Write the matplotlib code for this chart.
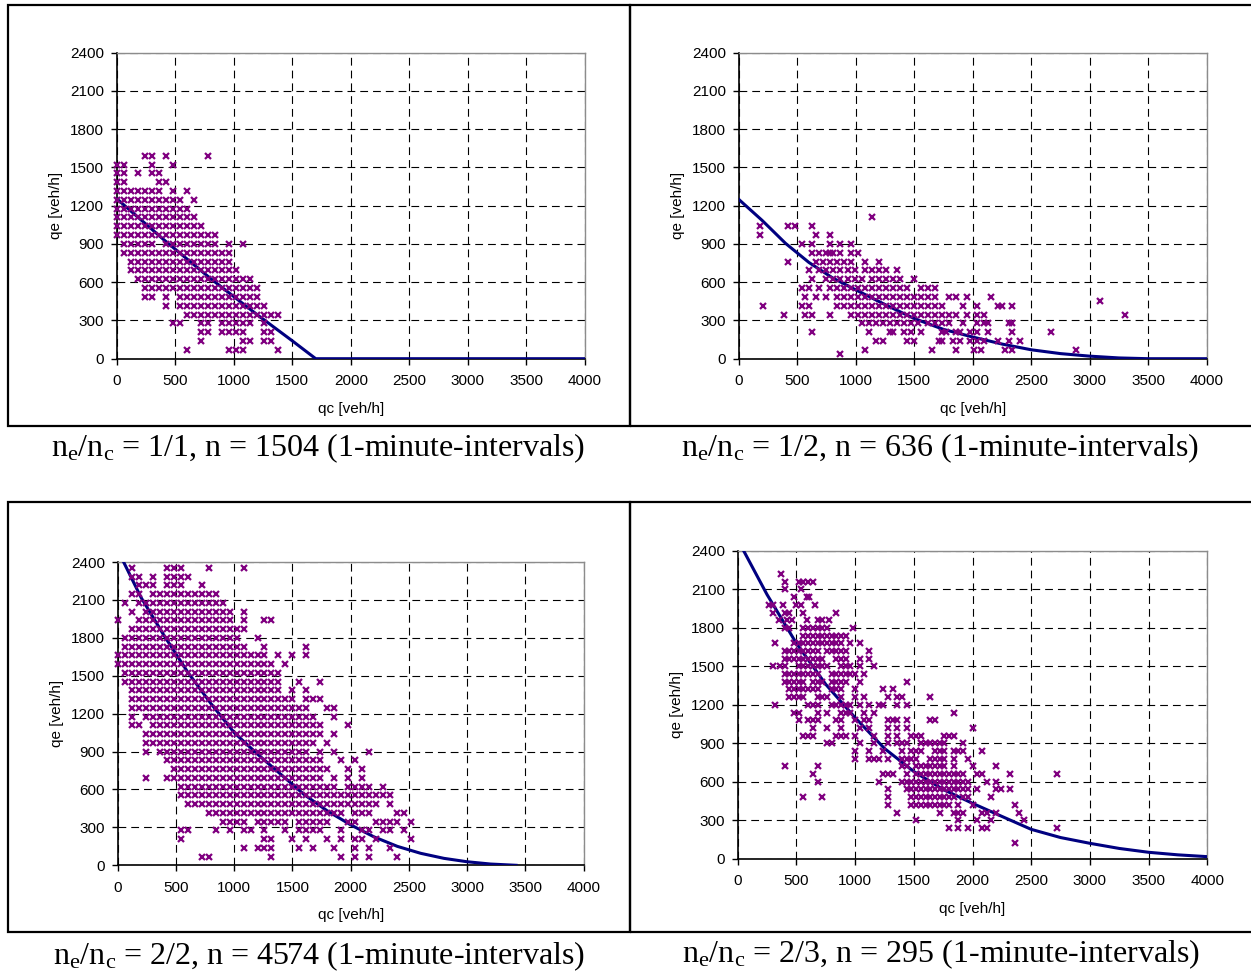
import matplotlib
matplotlib.use("Agg")
import matplotlib.pyplot as plt
from matplotlib.patches import Rectangle

plt.rcParams['font.family'] = ['Liberation Sans', 'DejaVu Sans']
plt.rcParams['mathtext.fontset'] = 'custom'
plt.rcParams['mathtext.rm'] = 'Liberation Serif'
plt.rcParams['mathtext.it'] = 'Liberation Serif:italic'

# ---- scatter data: qe level -> runs of qc values ----
# runs "a-b" mean every grid column from a to b (grid step given per panel)
P1_QE = [1592, 1523, 1454, 1385, 1315, 1246, 1177, 1108, 1038, 969, 900, 831,
         762, 692, 623, 554, 485, 415, 346, 277, 208, 138, 69]
P1_QC = [
    "240,300,420,780",
    "0,60,300,480",
    "0,60,180,300,360",
    "0,60,360,420",
    "0,60-360,480,600",
    "0,60-240,300-420,480,540,660",
    "0-360,420-600",
    "0,60-540,600,660",
    "0-180,240-720",
    "0,60-420,480-780,840",
    "60,120-300,420-780,840,960,1080",
    "60,120-600,660-900,960",
    "120-480,540-960",
    "120,180-720,780-1020",
    "180,240-540,600-1020,1080,1140",
    "240,300,360-840,900-1080,1140,1200",
    "240,300,420,540-780,840-1140,1200",
    "420,540,600,660-960,1020-1260",
    "600,660,720-900,960-1200,1260,1320,1380",
    "480,540,720,780,900,960,1020,1080,1140,1260",
    "720,780,900,960,1020,1080,1260,1320",
    "720,1080,1140,1260,1320",
    "600,960,1020,1080,1380",
]

P2_QE = [1108, 1038, 969, 900, 831, 762, 692, 623, 554, 485, 450, 415, 346,
         277, 208, 138, 69, 35]
P2_QC = [
    "1140",
    "180,420,480,630",
    "180,660,780",
    "540,630,780,870,960",
    "630,690,750,780,810,870,960,1020",
    "420,660,720-900,960,1080,1200",
    "600,690-990,1080-1260,1350",
    "630,750-1080,1140-1320,1380,1500",
    "540,600,690,780-1080,1140-1440,1560,1620,1680",
    "570,660,750,840-1380,1440-1620,1680,1800,1860,1950,2160",
    "3090",
    "210,540,600,840,900,960-1260,1320-1500,1560-1740,1920,2040,2220,2250,2340",
    "390,570,630,780,960,1020-1380,1440-1560,1620-1800,1860,1950,2040,2100,3300",
    "1050-1350,1410-1560,1620-1770,1800,1920,2040,2100,2130,2310,2340",
    "630,1110,1290,1320,1410,1470,1560,1740,1770,1860,1890,1980,2040,2130,2340,2670",
    "1170,1230,1440,1500,1710,1740,1830-1890,1980,2040-2100,2220,2310,2400",
    "1080,1650,1860,2010,2070,2280,2340,2880",
    "870",
]

P3_QE = [2354, 2285, 2215, 2146, 2077, 2008, 1938, 1869, 1800, 1731, 1662, 1592,
         1523, 1454, 1385, 1315, 1246, 1177, 1108, 1038, 969, 900, 831, 762,
         692, 623, 554, 485, 415, 346, 277, 208, 138, 69]
P3_QC = [
    "120,420,480,540,780,1080",
    "120,180,300,420,480,540,600",
    "180,240,300,420,480,540,720",
    "120,180,300,360,420-600,660-780,840",
    "60,180,240-360,420,480,540-660,720-900",
    "120,240-420,480-600,660-900,960,1080",
    "0,180-540,600-900,960,1080,1260,1320",
    "120-480,540-1020,1080",
    "60,120-240,300-660,720-1020,1200",
    "60,120-600,660-1080,1260,1620",
    "0-240,300-840,900-1260,1380,1500,1620",
    "0,60-600,660-1320,1440",
    "60-900,960-1380",
    "60,120-720,780-1200,1260-1380,1560,1740",
    "120-480,540-1380,1500,1620",
    "120-1020,1080-1500,1620,1680,1740",
    "120,180-660,720-1560,1620,1800,1860",
    "120,240-1080,1140-1680,1860",
    "120,180,300-900,960-1740,1980",
    "240-1320,1380-1740,1860",
    "240,300-1080,1140-1680,1800",
    "240,360-960,1020-1620,1740,1860,2160",
    "420-1260,1320-1740,1920,2040",
    "480-1080,1140-1800,1980,2100",
    "240,420,480-1440,1500-1740,1860,1980,2100",
    "540-1080,1140-1860,1980,2040,2100,2160,2280",
    "540-660,720-1500,1560-2160,2220,2280,2340",
    "600-780,840-1980,2040-2220,2340",
    "780-1380,1440-1920,2040-2160,2400,2460",
    "900,960,1020,1080,1200-1440,1560-1620,1680-1740,1800,1980-2040,2220,2280,2340,2400,2520",
    "540,600,840,960,1080,1140,1260,1440,1560-1680,1740,1920,2100,2160,2280,2340,2460",
    "540,1260,1320,1500,1620,1800,1920,2040,2100,2220,2520",
    "1080,1200,1260,1320,1560,1680,1860,2040,2160,2340",
    "720,780,1320,1920,2040,2160,2400",
]

P4_QE = [2220, 2160, 2100, 2040, 1980, 1920, 1860, 1800, 1740, 1680, 1620, 1560,
         1500, 1440, 1380, 1320, 1260, 1200, 1140, 1080, 1020, 960, 900, 840,
         780, 720, 660, 600, 540, 480, 420, 360, 300, 240, 120]
P4_QC = [
    "370",
    "400,520,560,600,640",
    "400,540",
    "480,590,610",
    "270,300,390,500,540,660",
    "300,400,440,560,840",
    "350,420-480,590,680,720,780",
    "400,440,560-760,980",
    "560-880,920",
    "320,480-880,960,1040",
    "400-680,760-880,920,1120",
    "400,440,480-720,840-920,1040,1120",
    "300,360,400,520-600,640-760,880-960,1040,1160",
    "400-480,520-680,800-840,880-960,1000,1080",
    "400-560,640-720,800-920,1040,1440",
    "440-560,600-680,800-880,1000,1240,1320",
    "440-520,560,680-760,880,1000,1080,1280,1360,1400,1640",
    "320,600-680,800-960,1040,1120,1200-1240,1360,1440",
    "480,520,680,760,880-960,1080,1160,1840",
    "520,600-680,840-880,1000,1080-1120,1280-1360,1440,1640,1680",
    "640,760,880,1040,1120,1280,1360,1440,2000",
    "560-640,840-920,1000,1160,1280,1360,1480-1560,1760-1840",
    "760,800,1040,1160,1280,1360-1440,1560-1760,1920",
    "1000,1120,1240,1400,1480-1560,1680-1760,1840-1920,2080",
    "1000,1120-1200,1280,1400-1520,1640-1760,1840,1960",
    "400,680,1400-1440,1520-1760,1840,2000,2200",
    "640,1240-1320,1440,1520-1800,1840-1920,2040,2080,2320,2720",
    "680,1200,1400-1800,1840-1960,2120,2200",
    "1280,1440-1800,1840-1960,2040,2200-2240,2320",
    "560,720,1280,1480-1760,1800-1840,1920-1960,2160",
    "1280,1480-1800,1880,2000,2360",
    "1360,1720,1840-1920,2080-2120,2200,2400",
    "1520,1880,2040,2160,2440",
    "1800,1880,1960,2080-2120,2720",
    "2360",
]
STEPS = [60, 60, 60, 40]

# ---- fitted capacity curves ----
C1_QC = [0, 400, 800, 1200, 1500, 1700, 4000]
C1_QE = [1255, 935, 630, 345, 140, 0, 0]
C2_QC = [0, 200, 400, 600, 800, 1000, 1250, 1500, 1750, 2000, 2250, 2500,
         2750, 3000, 3250, 3500, 4000]
C2_QE = [1250, 1085, 905, 755, 635, 540, 425, 315, 230, 170, 115, 70,
         40, 20, 6, 0, 0]
C3_QC = [40, 200, 400, 600, 800, 1000, 1200, 1400, 1600, 1800, 2000, 2200,
         2400, 2600, 2800, 3000, 3200, 3420]
C3_QE = [2420, 2120, 1815, 1530, 1280, 1050, 880, 720, 560, 430, 320, 225,
         150, 95, 55, 28, 10, 0]
C4_QC = [40, 250, 500, 750, 1000, 1250, 1500, 1750, 2000, 2250, 2500, 2750,
         3000, 3250, 3500, 3750, 4000]
C4_QE = [2420, 2060, 1680, 1360, 1100, 860, 680, 540, 432, 330, 229, 165,
         120, 80, 50, 30, 16]

CAPTIONS = [
    r"n$_{\mathrm{e}}$/n$_{\mathrm{c}}$ = 1/1, n = 1504 (1-minute-intervals)",
    r"n$_{\mathrm{e}}$/n$_{\mathrm{c}}$ = 1/2, n = 636 (1-minute-intervals)",
    r"n$_{\mathrm{e}}$/n$_{\mathrm{c}}$ = 2/2, n = 4574 (1-minute-intervals)",
    r"n$_{\mathrm{e}}$/n$_{\mathrm{c}}$ = 2/3, n = 295 (1-minute-intervals)",
]


def expand(levels, specs, step):
    xs, ys = [], []
    for qe, spec in zip(levels, specs):
        for part in spec.split(","):
            if "-" in part:
                a, b = part.split("-")
                for v in range(int(a), int(b) + 1, step):
                    xs.append(v)
                    ys.append(qe)
            else:
                xs.append(int(part))
                ys.append(qe)
    return xs, ys


W, H = 1251, 974
fig = plt.figure(figsize=(W / 100, H / 100), dpi=100)

# axes boxes in pixels: left, right, top, bottom
AX_PX = [(116.7, 585.0, 52.7, 358.7),
         (738.7, 1206.7, 52.7, 358.7),
         (117.7, 583.7, 562.0, 865.3),
         (737.7, 1207.3, 551.0, 858.7)]
BOX_PX = [(7.5, 630, 5, 426), (630, 1256, 5, 426),
          (7.5, 630, 502, 932), (630, 1256, 502, 932)]
CAP_PX = [(318, 448), (940, 448), (319, 956), (941, 954)]

scatter = [(P1_QE, P1_QC), (P2_QE, P2_QC), (P3_QE, P3_QC), (P4_QE, P4_QC)]
curves = [(C1_QC, C1_QE), (C2_QC, C2_QE), (C3_QC, C3_QE), (C4_QC, C4_QE)]

for i in range(4):
    l, r, t, b = AX_PX[i]
    ax = fig.add_axes([l / W, 1 - b / H, (r - l) / W, (b - t) / H])
    ax.set_xlim(0, 4000)
    ax.set_ylim(0, 2400)
    ax.set_xticks(range(0, 4001, 500))
    ax.set_yticks(range(0, 2401, 300))
    ax.set_axisbelow(True)
    ax.grid(True, color="black", lw=0.8, dashes=(7, 4.5))
    for s in ["top", "right"]:
        ax.spines[s].set_color("#8c8c8c")
        ax.spines[s].set_linewidth(1.0)
    for s in ["left", "bottom"]:
        ax.spines[s].set_color("black")
        ax.spines[s].set_linewidth(1.2)
    ax.tick_params(direction="out", length=4, width=1, labelsize=11, pad=5)
    ax.tick_params(axis="x", pad=7)

    cx, cy = curves[i]
    ax.plot(cx, cy, color="#000080", lw=2.2, zorder=3)
    lv, sp = scatter[i]
    xs, ys = expand(lv, sp, STEPS[i])
    ax.plot(xs, ys, ls="none", marker="x", color="#800080", ms=5, mew=1.6,
            zorder=4, clip_on=False)

    ax.set_xlabel("qc [veh/h]", fontsize=11)
    ax.set_ylabel("qe [veh/h]", fontsize=11)
    ax.xaxis.set_label_coords(0.5, -0.14)
    ax.yaxis.set_label_coords(-0.115, 0.5)

    bl, br, bt, bb = BOX_PX[i]
    fig.patches.append(Rectangle((bl / W, 1 - bb / H), (br - bl) / W, (bb - bt) / H,
                                 transform=fig.transFigure, fill=False,
                                 edgecolor="black", lw=1.6))
    x, y = CAP_PX[i]
    fig.text(x / W, 1 - y / H, CAPTIONS[i], ha="center", va="center",
             fontsize=23, family="Liberation Serif")

fig.savefig("out.png", dpi=100)
